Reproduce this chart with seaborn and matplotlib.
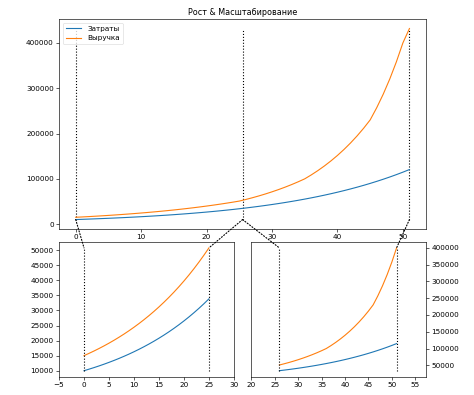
import numpy as np
import pandas as pd
import matplotlib
matplotlib.use("Agg")
import matplotlib.pyplot as plt
import seaborn as sns
from matplotlib.patches import ConnectionPatch

# данные (год, затраты, выручка)
years = list(range(52))
costs = [10000, 10500, 11025, 11576, 12155, 12763, 13401, 14071, 14775, 15513,
         16289, 17103, 17959, 18856, 19799, 20789, 21829, 22920, 24066, 25270,
         26533, 27860, 29253, 30715, 32251, 33864, 35557, 37335, 39201, 41161,
         43219, 45380, 47649, 50032, 52533, 55160, 57918, 60814, 63855, 67048,
         70400, 73920, 77616, 81497, 85572, 89850, 94343, 99060, 104013, 109213,
         114674, 120408]
revenue = [15000, 15750, 16538, 17364, 18233, 19144, 20101, 21107, 22162, 23270,
           24433, 25655, 26938, 28285, 29699, 31184, 32743, 34380, 36099, 37904,
           39800, 41790, 43879, 46073, 48377, 50796, 54352, 58156, 62227, 66583,
           71244, 76231, 81567, 87277, 93386, 99923, 108616, 118065, 128337, 139502,
           151639, 164831, 179172, 194760, 211704, 230122, 257046, 287120, 320713, 358236,
           400150, 432000]
series_names = ["Затраты", "Выручка"]
title = "Рост & Масштабирование"

plt.rcParams['font.family'] = ['DejaVu Sans']
plt.rcParams['font.size'] = 5.2
plt.rcParams['axes.linewidth'] = 0.45
for a in ("xtick", "ytick"):
    plt.rcParams[a + '.major.size'] = 1.9
    plt.rcParams[a + '.major.width'] = 0.45
    plt.rcParams[a + '.major.pad'] = 1.9
    plt.rcParams[a + '.labelsize'] = 5.2

df = pd.DataFrame({
    "year": years * 2,
    "value": costs + revenue,
    "series": [series_names[0]] * len(years) + [series_names[1]] * len(years),
})
pal = sns.color_palette("tab10", 2)

fig = plt.figure(figsize=(4.74, 3.95), dpi=100)
ax_top = fig.add_axes([0.1245, 0.420, 0.7745, 0.532])
ax_bl = fig.add_axes([0.1245, 0.046, 0.369, 0.342])
ax_br = fig.add_axes([0.530, 0.046, 0.369, 0.342])

# верхний график
sns.lineplot(data=df, x="year", y="value", hue="series", palette=pal, ax=ax_top, lw=0.8)
ax_top.set_title(title, fontsize=5.8, pad=3)
ax_top.legend(loc="upper left", fontsize=5.2, frameon=True, handlelength=2.2)
leg = ax_top.get_legend()
leg.get_frame().set_linewidth(0.4)
for h in leg.get_lines():
    h.set_linewidth(0.8)

# левый нижний: 0..25
sub_l = df[df.year <= 25]
sns.lineplot(data=sub_l, x="year", y="value", hue="series", palette=pal, ax=ax_bl,
             lw=0.8, legend=False)
ax_bl.set_xlim(-5, 30)
ax_bl.set_xticks(np.arange(-5, 31, 5))
ax_bl.set_yticks(np.arange(10000, 50001, 5000))

# правый нижний: 26..51 (значения сдвинуты на год, как в оригинале)
x_r = years[26:]
sns.lineplot(x=x_r, y=costs[25:51], color=pal[0], ax=ax_br, lw=0.8)
sns.lineplot(x=x_r, y=revenue[25:51], color=pal[1], ax=ax_br, lw=0.8)
ax_br.set_xlim(20, 57.3)
ax_br.set_xticks(np.arange(20, 56, 5))
ax_br.set_yticks(np.arange(50000, 400001, 50000))
ax_br.yaxis.tick_right()

for ax in (ax_top, ax_bl, ax_br):
    ax.set_xlabel("")
    ax.set_ylabel("")

line_kw = dict(color="k", ls=":", lw=0.8)

# вертикальные пунктиры
ymin_all, ymax_all = min(costs), max(revenue)
mid = 25.5
for x in (years[0], mid, years[-1]):
    ax_top.plot([x, x], [ymin_all, ymax_all], zorder=1, **line_kw)

l_lo, l_hi = min(costs[:26]), max(revenue[:26])
for x in (0, 25):
    ax_bl.plot([x, x], [l_lo, l_hi], **line_kw)

r_lo, r_hi = min(costs[25:51]), max(revenue[25:51])
for x in (26, 51):
    ax_br.plot([x, x], [r_lo, r_hi], **line_kw)

# соединительные линии
pairs = [
    ((0, ymin_all), ax_bl, (0, l_hi)),
    ((mid, ymin_all), ax_bl, (25, l_hi)),
    ((mid, ymin_all), ax_br, (26, r_hi)),
    ((51, ymin_all), ax_br, (51, r_hi)),
]
for pa, axb, pb in pairs:
    con = ConnectionPatch(xyA=pa, coordsA=ax_top.transData, xyB=pb, coordsB=axb.transData,
                          **line_kw)
    fig.add_artist(con)

fig.savefig("out.png", dpi=100)
